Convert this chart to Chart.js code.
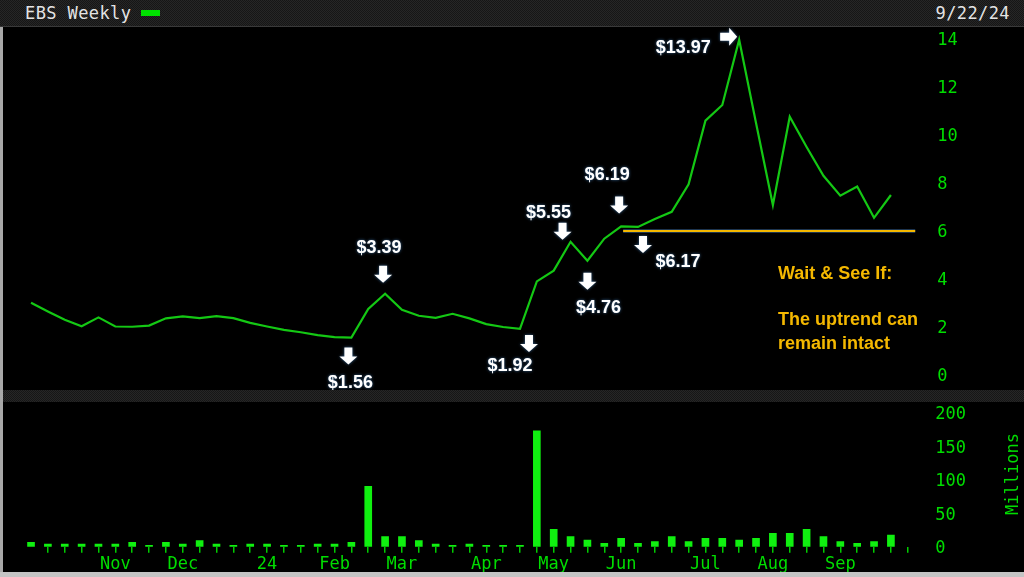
<!DOCTYPE html>
<html>
<head>
<meta charset="utf-8">
<script src="https://cdn.jsdelivr.net/npm/chart.js@4/dist/chart.umd.min.js"></script>
<style>
  body { margin: 0; width: 1024px; height: 577px; background: #000; position: relative; overflow: hidden;
         font-family: "DejaVu Sans Mono", monospace; }
  .band { position: absolute; left: 0; width: 1024px;
          background: repeating-conic-gradient(#262626 0 25%, #161616 0 50%) 0 0 / 2px 2px; }
  #header { top: 0; height: 26px; border-bottom: 1px solid #3a3a3a; }
  #divider { top: 390px; height: 12px; }
  #title { position: absolute; left: 25px; top: 0; line-height: 27px; font-size: 17px; color: #e4e4e4; letter-spacing: 0.4px; }
  #legendDash { position: absolute; left: 141px; top: 10px; width: 19px; height: 6px; background: #00e000; }
  #date { position: absolute; right: 14px; top: 0; line-height: 27px; font-size: 17px; color: #e4e4e4; letter-spacing: 0.4px; }
  #leftEdge { position: absolute; left: 0; top: 27px; width: 3px; height: 545px; background: #a8a8a8; }
  #bottomEdge { position: absolute; left: 0; top: 572px; width: 1024px; height: 5px; background: #c4c4c4; }
  canvas { position: absolute; left: 0; }
  #priceChart { top: 27px; }
  #volumeChart { top: 402px; }
  #millions { position: absolute; left: 972px; top: 464px; width: 80px; text-align: center; font-size: 17px;
              line-height: 22px; color: #00dd00; transform: rotate(-90deg); }
  .note { position: absolute; left: 778px; font: bold 18px "Liberation Sans", Arial, sans-serif; color: #f4b800;
          line-height: 20px; white-space: nowrap; }
</style>
</head>
<body>
<div class="band" id="header"></div>
<div id="title">EBS Weekly</div>
<div id="legendDash"></div>
<div id="date">9/22/24</div>
<canvas id="priceChart" width="1024" height="363"></canvas>
<div class="band" id="divider"></div>
<canvas id="volumeChart" width="1024" height="170"></canvas>
<div id="millions">Millions</div>
<div id="leftEdge"></div>
<div id="bottomEdge"></div>
<div class="note" style="top:263px">Wait &amp; See If:</div>
<div class="note" style="top:309px">The uptrend can</div>
<div class="note" style="top:333px">remain intact</div>

<script>
// ── DATA ──
const weeks = [
    '9/25/23', '10/2/23', '10/9/23', '10/16/23', '10/23/23', '10/30/23', '11/6/23', '11/13/23', '11/20/23', '11/27/23',
    '12/4/23', '12/11/23', '12/18/23', '12/25/23', '1/1/24', '1/8/24', '1/15/24', '1/22/24', '1/29/24', '2/5/24',
    '2/12/24', '2/19/24', '2/26/24', '3/4/24', '3/11/24', '3/18/24', '3/25/24', '4/1/24', '4/8/24', '4/15/24',
    '4/22/24', '4/29/24', '5/6/24', '5/13/24', '5/20/24', '5/27/24', '6/3/24', '6/10/24', '6/17/24', '6/24/24',
    '7/1/24', '7/8/24', '7/15/24', '7/22/24', '7/29/24', '8/5/24', '8/12/24', '8/19/24', '8/26/24', '9/2/24',
    '9/9/24', '9/16/24', '9/23/24'
];

const closePrice = [
    3.01, 2.65, 2.30, 2.03, 2.40, 2.02, 2.01, 2.06, 2.36, 2.44,
    2.37, 2.45, 2.37, 2.17, 2.02, 1.88, 1.78, 1.66, 1.58, 1.56,
    2.75, 3.39, 2.72, 2.47, 2.38, 2.55, 2.36, 2.12, 2.00, 1.92,
    3.90, 4.35, 5.55, 4.76, 5.68, 6.19, 6.17, 6.50, 6.80, 7.95,
    10.60, 11.25, 13.97, 10.50, 7.08, 10.76, 9.50, 8.30, 7.47, 7.85,
    6.55, 7.50, null
];

// millions of shares
const volume = [
    6.5, 4, 4, 4, 4, 4, 6.5, 2, 6.5, 4,
    9, 4, 2, 4, 4, 2, 2, 4, 4, 6.5,
    90, 15, 15, 9, 4, 2, 4, 2, 2, 2,
    173, 26, 15, 10, 5, 12.4, 5, 7.5, 15, 7.5,
    12.4, 12.4, 10, 12.4, 20, 20, 26, 15, 7.5, 5,
    7.5, 17.5, null
];

const monthTickIndex = [5, 9, 14, 18, 22, 27, 31, 35, 40, 44, 48];
const monthTickText  = ['Nov', 'Dec', '24', 'Feb', 'Mar', 'Apr', 'May', 'Jun', 'Jul', 'Aug', 'Sep'];

const priceTicks  = [0, 2, 4, 6, 8, 10, 12, 14];
const volumeTicks = [0, 50, 100, 150, 200];

const supportLevel = 6.0;
const supportFrom  = 35;

// ── CALLOUTS (offsets from the data point, px) ──
const callouts = [
    { i: 19, text: '$1.56',  arrow: 'down',  ax: -3,  ay: 10,  lx: -1,  ly: 45 },
    { i: 21, text: '$3.39',  arrow: 'down',  ax: -2,  ay: -28, lx: -6,  ly: -46 },
    { i: 29, text: '$1.92',  arrow: 'down',  ax: 9,   ay: 6,   lx: -10, ly: 37 },
    { i: 32, text: '$5.55',  arrow: 'down',  ax: -8,  ay: -19, lx: -22, ly: -29 },
    { i: 33, text: '$4.76',  arrow: 'down',  ax: 0,   ay: 12,  lx: 11,  ly: 47 },
    { i: 35, text: '$6.19',  arrow: 'down',  ax: -2,  ay: -30, lx: -14, ly: -51 },
    { i: 36, text: '$6.17',  arrow: 'down',  ax: 5,   ay: 9,   lx: 40,  ly: 35 },
    { i: 42, text: '$13.97', arrow: 'right', ax: -19, ay: -3,  lx: -56, ly: 8 }
];

// ── STYLE ──
const GREEN_TXT = '#00dd00';
const tickFont = { family: 'DejaVu Sans Mono', size: 17 };
const PLOT_LEFT = 22.6;
const AXIS_W = 107.8;

// chart.js pads the plot by half a label + tick padding; the terminal chart doesn't
function noEdgePadding(s) {
    s.paddingTop = 0;
    s.paddingBottom = 0;
    s.paddingLeft = 0;
    s.paddingRight = 0;
}

function drawArrow(ctx, x, y, dir) {
    ctx.beginPath();
    if (dir === 'down') {
        ctx.moveTo(x - 4, y);
        ctx.lineTo(x + 4, y);
        ctx.lineTo(x + 4, y + 9);
        ctx.lineTo(x + 9, y + 9);
        ctx.lineTo(x, y + 17);
        ctx.lineTo(x - 9, y + 9);
        ctx.lineTo(x - 4, y + 9);
    } else {
        ctx.moveTo(x, y - 4);
        ctx.lineTo(x + 9, y - 4);
        ctx.lineTo(x + 9, y - 9);
        ctx.lineTo(x + 17, y);
        ctx.lineTo(x + 9, y + 9);
        ctx.lineTo(x + 9, y + 4);
        ctx.lineTo(x, y + 4);
    }
    ctx.closePath();
    ctx.fill();
}

const supportPlugin = {
    id: 'support',
    beforeDatasetsDraw(chart) {
        const { ctx, chartArea, scales: { x, y } } = chart;
        const yy = y.getPixelForValue(supportLevel);
        ctx.save();
        ctx.strokeStyle = '#1d3550';
        ctx.lineWidth = 4;
        ctx.beginPath();
        ctx.moveTo(x.getPixelForValue(supportFrom) + 2, yy);
        ctx.lineTo(chartArea.right - 1, yy);
        ctx.stroke();
        ctx.strokeStyle = '#f4b800';
        ctx.lineWidth = 2;
        ctx.stroke();
        ctx.restore();
    }
};

const calloutPlugin = {
    id: 'callouts',
    afterDatasetsDraw(chart) {
        const { ctx, scales: { x, y } } = chart;
        ctx.save();
        ctx.fillStyle = '#ffffff';
        ctx.shadowColor = 'rgba(60,110,160,0.9)';
        ctx.shadowBlur = 3;
        ctx.font = 'bold 18px "Liberation Sans", Arial, sans-serif';
        ctx.textAlign = 'center';
        ctx.textBaseline = 'middle';
        callouts.forEach(c => {
            const px = x.getPixelForValue(c.i);
            const py = y.getPixelForValue(closePrice[c.i]);
            drawArrow(ctx, px + c.ax, py + c.ay, c.arrow);
            ctx.fillText(c.text, px + c.lx, py + c.ly);
        });
        ctx.restore();
    }
};

// ── PRICE ──
new Chart(document.getElementById('priceChart'), {
    type: 'line',
    data: {
        labels: weeks,
        datasets: [{
            data: closePrice,
            borderColor: '#14c814',
            borderWidth: 2.2,
            pointRadius: 0,
            tension: 0,
            spanGaps: false
        }]
    },
    options: {
        responsive: false,
        animation: false,
        devicePixelRatio: 1,
        layout: { padding: { left: PLOT_LEFT, right: 0, top: 0, bottom: 0 } },
        plugins: { legend: { display: false }, tooltip: { enabled: false } },
        scales: {
            x: { type: 'category', offset: true, display: false },
            y: {
                position: 'right',
                min: -0.625,
                max: 14.5,
                afterBuildTicks: s => { s.ticks = priceTicks.map(v => ({ value: v })); },
                afterFit: s => { s.width = AXIS_W; noEdgePadding(s); },
                ticks: { color: GREEN_TXT, font: tickFont, padding: 21, labelOffset: 1.5 },
                grid: { display: false, drawTicks: false },
                border: { display: false }
            }
        }
    },
    plugins: [supportPlugin, calloutPlugin]
});

// ── VOLUME ──
new Chart(document.getElementById('volumeChart'), {
    type: 'bar',
    data: {
        labels: weeks,
        datasets: [{
            data: volume,
            backgroundColor: '#10f010',
            barThickness: 7
        }]
    },
    options: {
        responsive: false,
        animation: false,
        devicePixelRatio: 1,
        layout: { padding: { left: PLOT_LEFT, right: 0, top: 0, bottom: 0 } },
        plugins: { legend: { display: false }, tooltip: { enabled: false } },
        scales: {
            x: {
                type: 'category',
                offset: true,
                afterFit: s => { s.height = 25.3; noEdgePadding(s); },
                ticks: {
                    autoSkip: false,
                    maxRotation: 0,
                    minRotation: 0,
                    padding: 2,
                    color: GREEN_TXT,
                    font: tickFont,
                    callback: (v, idx) => {
                        const k = monthTickIndex.indexOf(idx);
                        return k >= 0 ? monthTickText[k] : '';
                    }
                },
                grid: {
                    offset: false,
                    drawOnChartArea: false,
                    drawTicks: true,
                    tickLength: 6,
                    lineWidth: 1.5,
                    color: ctx => ctx.index === 0 ? 'rgba(0,0,0,0)' : '#00cc00'
                },
                border: { display: false }
            },
            y: {
                position: 'right',
                min: 0,
                max: 216,
                afterBuildTicks: s => { s.ticks = volumeTicks.map(v => ({ value: v })); },
                afterFit: s => { s.width = AXIS_W; noEdgePadding(s); },
                ticks: { color: GREEN_TXT, font: tickFont, padding: 19, labelOffset: 2 },
                grid: { display: false, drawTicks: false },
                border: { display: false }
            }
        }
    }
});
</script>
</body>
</html>
